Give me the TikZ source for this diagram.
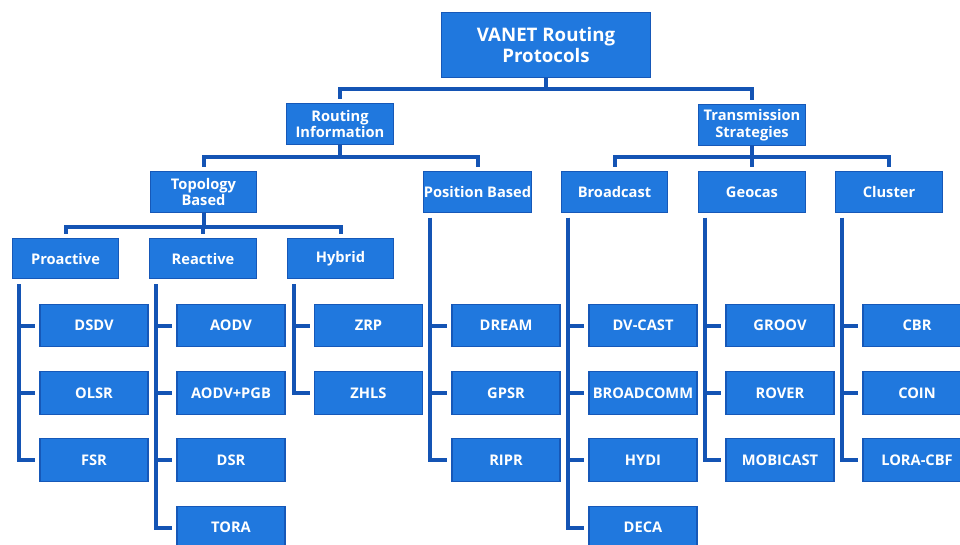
\documentclass[tikz,border=0pt]{standalone}
\usepackage{fontspec}
\setmainfont{Open Sans}
\definecolor{boxblue}{RGB}{32,120,222}
\definecolor{edgeblue}{RGB}{22,88,184}
\definecolor{lineblue}{RGB}{20,84,180}

\begin{document}
\begin{tikzpicture}[x=0.75pt,y=-0.75pt,
	box/.style={draw=edgeblue,line width=0.8pt,fill=boxblue,text=white,font=\bfseries\fontsize{11}{12.5}\selectfont,align=center,inner sep=0pt},
	top/.style={box,minimum width=157pt,minimum height=49pt,font=\bfseries\fontsize{14}{16}\selectfont},
	mid/.style={box,minimum width=80pt,minimum height=30.5pt},
	leaf/.style={box,minimum width=81pt,minimum height=32pt,font=\bfseries\fontsize{11}{13}\selectfont},
	conn/.style={draw=lineblue,line width=3pt},
	drop/.style={conn,shorten >=3pt}]
	\useasboundingbox (0,0) rectangle (960,544);

	\node[top] (root) at (546,45) {VANET Routing\\Protocols};

	\node[mid] (ri) at (340,124) {Routing\\Information};
	\node[mid] (ts) at (752,125) {Transmission\\Strategies};

	\node[mid] (tb) at (203.5,192) {Topology\\Based};
	\node[mid] (pb) at (477.5,192) {Position Based};
	\node[mid] (bc) at (614.5,192) {Broadcast};
	\node[mid] (gc) at (752,192) {Geocas};
	\node[mid] (cl) at (889,192) {Cluster};

	\node[mid] (pa) at (65.5,258.5) {Proactive};
	\node[mid] (ra) at (203,258.5) {Reactive};
	\node[mid] (hy) at (340.5,258.5) {Hybrid};

	% proactive
	\node[leaf] (dsdv) at (94,325.5) {DSDV};
	\node[leaf] (olsr) at (94,393) {OLSR};
	\node[leaf] (fsr) at (94,460) {FSR};
	% reactive
	\node[leaf] (aodv) at (231,325.5) {AODV};
	\node[leaf] (pgb) at (231,393) {AODV+PGB};
	\node[leaf] (dsr) at (231,460) {DSR};
	\node[leaf] (tora) at (231,527.5) {TORA};
	% hybrid
	\node[leaf] (zrp) at (368.5,325.5) {ZRP};
	\node[leaf] (zhls) at (368.5,393) {ZHLS};
	% position based
	\node[leaf] (dream) at (506,325.5) {DREAM};
	\node[leaf] (gpsr) at (506,393) {GPSR};
	\node[leaf] (ripr) at (506,460) {RIPR};
	% broadcast
	\node[leaf] (dvcast) at (643,325.5) {DV-CAST};
	\node[leaf] (bcomm) at (643,393) {BROADCOMM};
	\node[leaf] (hydi) at (643,460) {HYDI};
	\node[leaf] (deca) at (643,527.5) {DECA};
	% geocast
	\node[leaf] (groov) at (780,325.5) {GROOV};
	\node[leaf] (rover) at (780,393) {ROVER};
	\node[leaf] (mobi) at (780,460) {MOBICAST};
	% cluster
	\node[leaf] (cbr) at (917,325.5) {CBR};
	\node[leaf] (coin) at (917,393) {COIN};
	\node[leaf] (lora) at (917,460) {LORA-CBF};

	% tree levels
	\path[drop] (root.south) -- ++(0,11) -| (ri.north);
	\path[drop] (root.south) -- ++(0,11) -| (ts.north);
	\path[drop] (ri.south) -- ++(0,12) -| (tb.north);
	\path[drop] (ri.south) -- ++(0,12) -| (pb.north);
	\path[drop] (ts.south) -- ++(0,11) -| (bc.north);
	\path[drop] (ts.south) -- ++(0,11) -| (gc.north);
	\path[drop] (ts.south) -- ++(0,11) -| (cl.north);
	\path[drop] (tb.south) -- ++(0,14) -| (pa.north);
	\path[drop] (tb.south) -- ++(0,14) -| (ra.north);
	\path[drop] (tb.south) -- ++(0,14) -| (hy.north);

	% leaf lists
	\path[drop] (pa.south west) ++(7,5) |- (dsdv.west);
	\path[drop] (pa.south west) ++(7,5) |- (olsr.west);
	\path[drop] (pa.south west) ++(7,5) |- (fsr.west);
	\path[drop] (ra.south west) ++(7,5) |- (aodv.west);
	\path[drop] (ra.south west) ++(7,5) |- (pgb.west);
	\path[drop] (ra.south west) ++(7,5) |- (dsr.west);
	\path[drop] (ra.south west) ++(7,5) |- (tora.west);
	\path[drop] (hy.south west) ++(7,5) |- (zrp.west);
	\path[drop] (hy.south west) ++(7,5) |- (zhls.west);
	\path[drop] (pb.south west) ++(7,5) |- (dream.west);
	\path[drop] (pb.south west) ++(7,5) |- (gpsr.west);
	\path[drop] (pb.south west) ++(7,5) |- (ripr.west);
	\path[drop] (bc.south west) ++(7,5) |- (dvcast.west);
	\path[drop] (bc.south west) ++(7,5) |- (bcomm.west);
	\path[drop] (bc.south west) ++(7,5) |- (hydi.west);
	\path[drop] (bc.south west) ++(7,5) |- (deca.west);
	\path[drop] (gc.south west) ++(7,5) |- (groov.west);
	\path[drop] (gc.south west) ++(7,5) |- (rover.west);
	\path[drop] (gc.south west) ++(7,5) |- (mobi.west);
	\path[drop] (cl.south west) ++(7,5) |- (cbr.west);
	\path[drop] (cl.south west) ++(7,5) |- (coin.west);
	\path[drop] (cl.south west) ++(7,5) |- (lora.west);
\end{tikzpicture}
\end{document}
